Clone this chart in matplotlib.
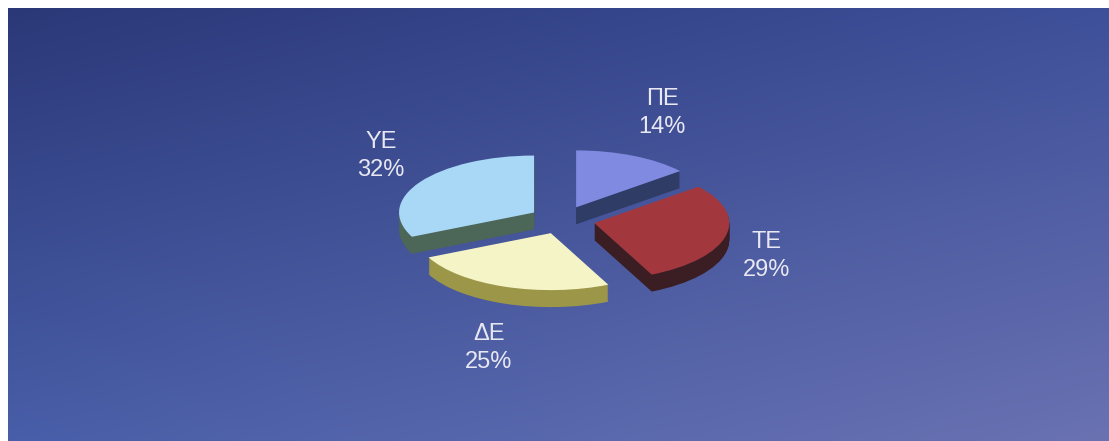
import matplotlib
matplotlib.use("Agg")
import matplotlib.pyplot as plt
import numpy as np

# slice data
categories = ["ΠΕ", "ΤΕ", "ΔΕ", "ΥΕ"]
shares = [14, 29, 25, 32]

top_colors = ["#7f8ae0", "#a2383e", "#f4f4c6", "#a8d8f6"]
side_colors = ["#2e3c66", "#3a1e24", "#9c9648", "#4c6658"]

W, H = 1109, 441
squash = 0.422          # vertical squash of the pie ellipse
cx, cy = 562, 220       # pie centre in pixels
radius = 135
depth = 17
explode = 0.245 * radius  # pie() takes the offset in data units

# label anchors in pixels
label_xy = [(662, 113), (767, 256), (489, 348), (381, 156)]

fig = plt.figure(figsize=(W / 100, H / 100), dpi=100, facecolor="white")
ax = fig.add_axes([0, 0, 1, 1])

def to_data(px, py):
    return px, (H - py) / squash

# background gradient (bilinear between the four corners)
corners = np.array([[[0x2b, 0x38, 0x78], [0x3e, 0x50, 0x9a]],
                    [[0x48, 0x5e, 0xa8], [0x6a, 0x72, 0xb2]]]) / 255.0
ny, nx = 200, 400
u = np.linspace(0, 1, nx)[None, :, None]
v = np.linspace(0, 1, ny)[:, None, None]
grad = ((1 - v) * ((1 - u) * corners[0, 0] + u * corners[0, 1])
        + v * ((1 - u) * corners[1, 0] + u * corners[1, 1]))
ax.imshow(grad, extent=(8, W, 0, (H - 8) / squash), aspect="auto",
          interpolation="bilinear", zorder=0)

pie_kw = dict(startangle=90, counterclock=False, radius=radius,
              explode=[explode] * len(shares), frame=True,
              wedgeprops=dict(linewidth=0, antialiased=True))

# side walls: stack of darker pies going down
for k in range(depth, 0, -1):
    c = to_data(cx, cy + k)
    wedges, _ = ax.pie(shares, colors=side_colors, center=c, **pie_kw)
    for w in wedges:
        w.set_zorder(2)

# top faces
c = to_data(cx, cy)
wedges, _ = ax.pie(shares, colors=top_colors, center=c, **pie_kw)
for w in wedges:
    w.set_zorder(3)

for cat, val, (px, py) in zip(categories, shares, label_xy):
    x, y = to_data(px, py)
    ax.text(x, y, f"{cat}\n{val}%", ha="center", va="center",
            fontsize=17, family="Liberation Sans", color="#e8e8f2",
            linespacing=1.4, zorder=4)

ax.set_aspect("auto")
ax.set_xlim(0, W)
ax.set_ylim(0, H / squash)
ax.axis("off")

fig.savefig("out.png", dpi=100, facecolor="white")
